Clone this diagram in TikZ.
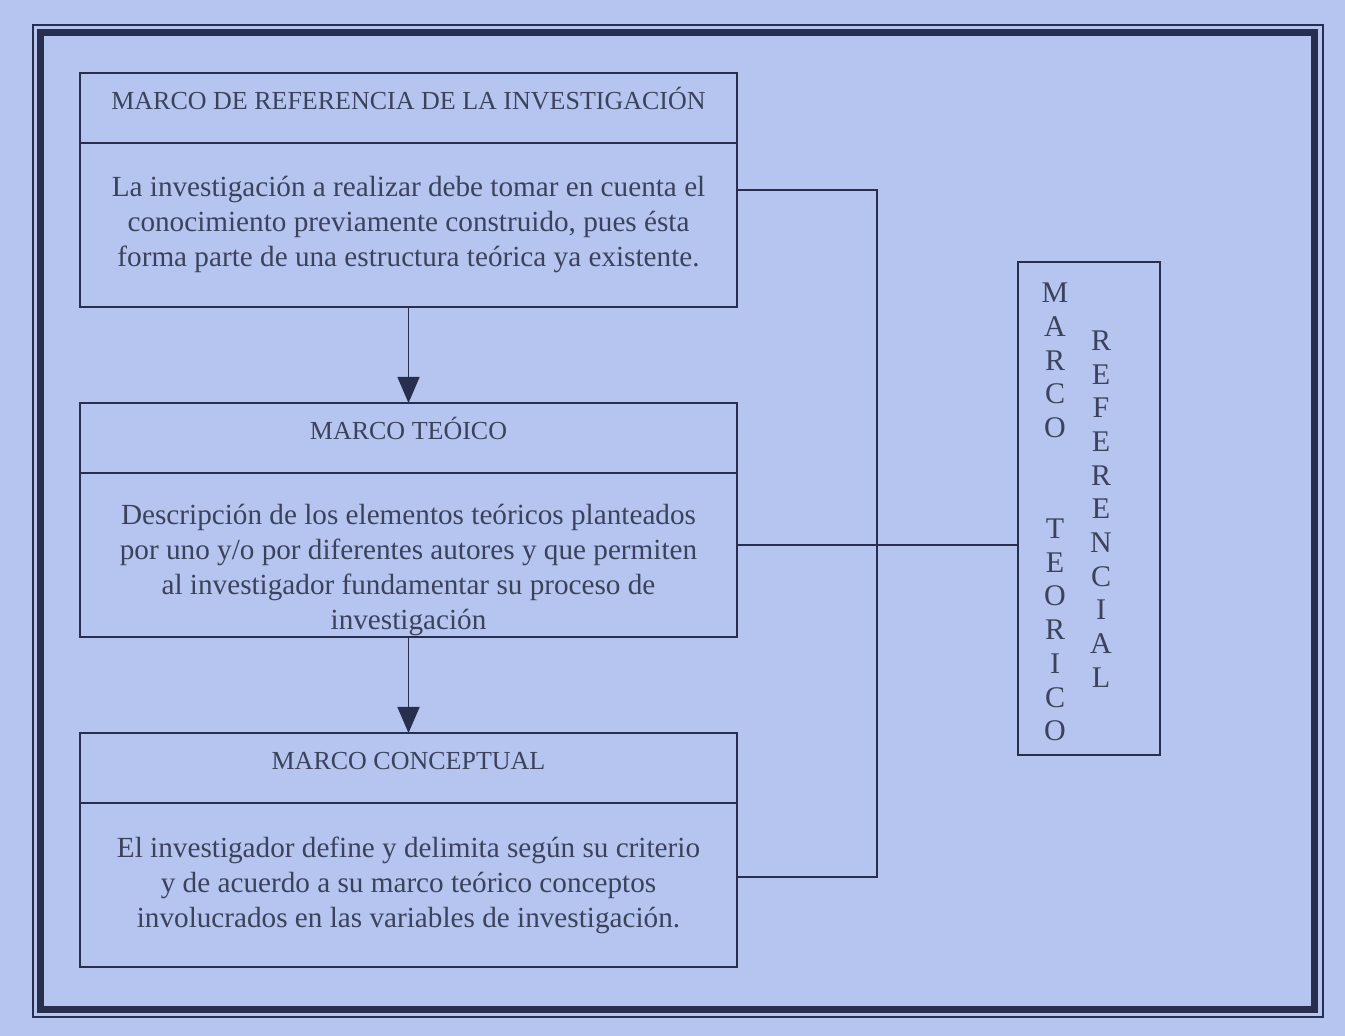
\documentclass[tikz,border=0pt]{standalone}
\usepackage{fontspec}
\setmainfont{Liberation Serif}
\usetikzlibrary{arrows.meta,positioning}
\definecolor{fondo}{RGB}{182,196,240}
\definecolor{tinta}{RGB}{40,46,78}
\definecolor{letra}{RGB}{58,66,92}
\tikzset{
  basic/.style  = {draw=tinta, line width=0.8pt, text=letra, rectangle,
                   minimum width=328.5pt, align=center, inner sep=0pt, outer sep=0pt},
  titulo/.style = {basic, minimum height=35pt, text height=9pt, text depth=7pt,
                   font=\fontsize{13pt}{15.6pt}\selectfont},
  cuerpo/.style = {basic, minimum height=82pt,
                   font=\fontsize{14.6pt}{17.5pt}\selectfont},
  letras/.style = {text=letra, align=center, inner sep=0pt,
                   font=\fontsize{15pt}{16.85pt}\selectfont},
}
\begin{document}
\begin{tikzpicture}[x=0.5pt, y=-0.5pt, >={Triangle[width=11pt,length=13pt]}]

% fondo y marco doble
\fill[fondo] (0,0) rectangle (1345,1036);
\draw[tinta, line width=1pt] (33,25) rectangle (1323,1017);
\draw[tinta, line width=3.5pt] (40,33) rectangle (1314,1010);

% cajas de la izquierda
\node[titulo, anchor=north west] (t1) at (80,73) {MARCO DE REFERENCIA DE LA INVESTIGACIÓN};
\node[cuerpo, below=0pt of t1] (d1) {La investigación a realizar debe tomar en cuenta el\\
  conocimiento previamente construido, pues ésta\\
  forma parte de una estructura teórica ya existente.};
\node[titulo, below=48pt of d1] (t2) {MARCO TEÓICO};
\node[cuerpo, below=0pt of t2, text height=78pt] (d2) {Descripción de los elementos teóricos planteados\\
  por uno y/o por  diferentes autores y que permiten\\
  al investigador fundamentar su proceso de\\
  investigación};
\node[titulo, below=48pt of d2] (t3) {MARCO CONCEPTUAL};
\node[cuerpo, below=0pt of t3] (d3) {El investigador define y delimita según su criterio\\
  y de acuerdo a su marco teórico conceptos\\
  involucrados en las variables de investigación.};

% caja de la derecha
\node[draw=tinta, line width=0.8pt, minimum width=71pt, minimum height=246.5pt] (mtr) at (1089,508.5) {};
\node[letras] (col1) at (1055,512) {M\\A\\R\\C\\O\\[33.7pt]T\\E\\O\\R\\I\\C\\O};
\node[letras] (col2) at (1101,509) {R\\E\\F\\E\\R\\E\\N\\C\\I\\A\\L};

% flechas
\foreach \desde/\hasta in {d1/t2, d2/t3}
  \draw[->, tinta, line width=0.8pt] (\desde) -- (\hasta);

% conectores
\coordinate (s1) at ([yshift=17.5pt]d1.east);
\coordinate (s2) at ([yshift=5pt]d2.east);
\coordinate (s3) at ([yshift=4pt]d3.east);
\draw[tinta, line width=0.8pt] (s1) -- ++(70pt,0) |- (s3);
\draw[tinta, line width=0.8pt] (s2) -- (s2 -| mtr.west);

\end{tikzpicture}
\end{document}
